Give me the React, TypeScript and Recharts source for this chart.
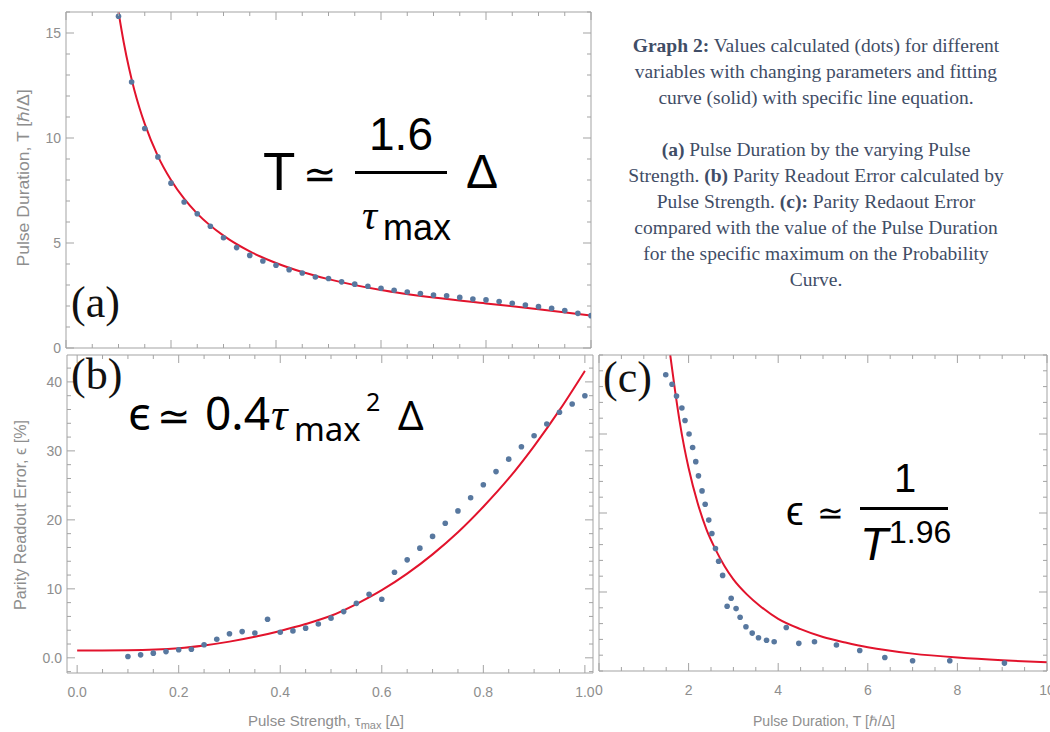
import React from 'react';
import { ComposedChart, Scatter, Line, XAxis, YAxis } from 'recharts';

// ---------- (a) Pulse Duration vs Pulse Strength ----------
const strengthA = [0.1, 0.125, 0.15, 0.175, 0.2, 0.225, 0.25, 0.275, 0.3, 0.325, 0.35, 0.375, 0.4, 0.425, 0.45, 0.475, 0.5, 0.525, 0.55, 0.575, 0.6, 0.625, 0.65, 0.675, 0.7, 0.725, 0.75, 0.775, 0.8, 0.825, 0.85, 0.875, 0.9, 0.925, 0.95, 0.975, 1.0];
const durationA = [15.8, 12.67, 10.45, 9.1, 7.85, 6.95, 6.39, 5.8, 5.25, 4.78, 4.41, 4.14, 3.94, 3.73, 3.57, 3.38, 3.31, 3.15, 3.04, 2.94, 2.84, 2.75, 2.67, 2.59, 2.52, 2.49, 2.41, 2.33, 2.29, 2.21, 2.13, 2.05, 1.97, 1.89, 1.78, 1.65, 1.54];
const fitStrengthA = [0.1, 0.11, 0.12, 0.13, 0.14, 0.15, 0.175, 0.2, 0.225, 0.25, 0.3, 0.35, 0.4, 0.45, 0.5, 0.6, 0.7, 0.8, 0.9, 1.0];
const fitDurationA = [16.0, 14.55, 13.33, 12.3, 11.43, 10.67, 9.14, 8.0, 7.11, 6.4, 5.35, 4.6, 4.05, 3.62, 3.28, 2.76, 2.4, 2.12, 1.85, 1.55];

// ---------- (b) Parity Readout Error vs Pulse Strength ----------
const strengthB = [0.1, 0.125, 0.15, 0.175, 0.2, 0.225, 0.25, 0.275, 0.3, 0.325, 0.35, 0.375, 0.4, 0.425, 0.45, 0.475, 0.5, 0.525, 0.55, 0.575, 0.6, 0.625, 0.65, 0.675, 0.7, 0.725, 0.75, 0.775, 0.8, 0.825, 0.85, 0.875, 0.9, 0.925, 0.95, 0.975, 1.0];
const errorB = [0.2, 0.43, 0.68, 0.9, 1.16, 1.25, 1.9, 2.7, 3.5, 3.8, 3.6, 5.6, 3.7, 3.9, 4.3, 4.9, 5.75, 6.7, 7.9, 9.2, 8.5, 12.4, 14.2, 15.9, 17.6, 19.5, 21.3, 23.2, 25.1, 27.0, 28.8, 30.6, 32.2, 33.9, 35.6, 36.8, 38.0];
const fitStrengthB = [0, 0.1, 0.2, 0.25, 0.3, 0.35, 0.4, 0.45, 0.5, 0.55, 0.6, 0.65, 0.7, 0.75, 0.8, 0.85, 0.9, 0.95, 1.0];
const fitErrorB = [1.05, 1.1, 1.4, 1.8, 2.35, 3.05, 3.9, 4.9, 6.1, 7.8, 9.8, 12.2, 15.0, 18.2, 21.9, 26.0, 30.7, 35.9, 41.6];

// ---------- (c) Parity Readout Error vs Pulse Duration ----------
const durationC = [1.49, 1.63, 1.73, 1.85, 1.92, 2.01, 2.09, 2.16, 2.22, 2.3, 2.37, 2.45, 2.52, 2.6, 2.67, 2.76, 2.86, 2.95, 3.06, 3.15, 3.28, 3.42, 3.56, 3.74, 3.91, 4.18, 4.46, 4.81, 5.3, 5.82, 6.38, 7.0, 7.83, 9.05];
const errorC = [0.375, 0.363, 0.348, 0.333, 0.317, 0.3, 0.283, 0.265, 0.247, 0.228, 0.211, 0.191, 0.174, 0.155, 0.139, 0.121, 0.082, 0.092, 0.079, 0.068, 0.056, 0.048, 0.042, 0.039, 0.037, 0.055, 0.035, 0.037, 0.033, 0.026, 0.017, 0.013, 0.013, 0.01];
const fitDurationC = [1.59, 1.7, 1.8, 1.9, 2.0, 2.2, 2.4, 2.6, 2.8, 3.0, 3.3, 3.6, 4.0, 4.5, 5.0, 5.5, 6.0, 7.0, 8.0, 9.0, 10.0];
const fitErrorC = [0.4, 0.354, 0.316, 0.284, 0.257, 0.213, 0.179, 0.154, 0.133, 0.116, 0.097, 0.082, 0.066, 0.053, 0.043, 0.036, 0.03, 0.022, 0.017, 0.0135, 0.011];

// ---------- ticks ----------
const aXTicks = [0, 0.05, 0.1, 0.15, 0.2, 0.25, 0.3, 0.35, 0.4, 0.45, 0.5, 0.55, 0.6, 0.65, 0.7, 0.75, 0.8, 0.85, 0.9, 0.95, 1.0];
const aXMajor = [0, 0.2, 0.4, 0.6, 0.8, 1.0];
const aYTicks = [0, 1, 2, 3, 4, 5, 6, 7, 8, 9, 10, 11, 12, 13, 14, 15, 16];
const aYMajor = [0, 5, 10, 15];
const aYLabels = ['0', '5', '10', '15'];

const bXTicks = aXTicks;
const bXMajor = [0, 0.2, 0.4, 0.6, 0.8, 1.0];
const bXLabels = ['0.0', '0.2', '0.4', '0.6', '0.8', '1.0'];
const bYTicks = [-2, 0, 2, 4, 6, 8, 10, 12, 14, 16, 18, 20, 22, 24, 26, 28, 30, 32, 34, 36, 38, 40, 42];
const bYMajor = [0, 10, 20, 30, 40];
const bYLabels = ['0.0', '10', '20', '30', '40'];

const cXTicks = [0, 0.5, 1, 1.5, 2, 2.5, 3, 3.5, 4, 4.5, 5, 5.5, 6, 6.5, 7, 7.5, 8, 8.5, 9, 9.5, 10];
const cXMajor = [0, 2, 4, 6, 8, 10];
const cXLabels = ['0', '2', '4', '6', '8', '10'];
const cYTicks = [0, 0.02, 0.04, 0.06, 0.08, 0.1, 0.12, 0.14, 0.16, 0.18, 0.2, 0.22, 0.24, 0.26, 0.28, 0.3, 0.32, 0.34, 0.36, 0.38, 0.4];
const cYMajor = [0.1, 0.2, 0.3];

const captionLines: Array<Array<[string, boolean]>> = [
  [['Graph 2:', true], [' Values calculated (dots) for different', false]],
  [['variables with changing parameters and fitting', false]],
  [['curve (solid) with specific line equation.', false]],
  [],
  [['(a)', true], [' Pulse Duration by the varying Pulse', false]],
  [['Strength. ', false], ['(b)', true], [' Parity Readout Error calculated by', false]],
  [['Pulse Strength. ', false], ['(c):', true], [' Parity Redaout Error', false]],
  [['compared with the value of the Pulse Duration', false]],
  [['for the specific maximum on the Probability', false]],
  [['Curve.', false]],
];

const zip = (xs: number[], ys: number[]) => xs.map((x, i) => ({ x, y: ys[i] }));
const dotsA = zip(strengthA, durationA);
const fitA = zip(fitStrengthA, fitDurationA);
const dotsB = zip(strengthB, errorB);
const fitB = zip(fitStrengthB, fitErrorB);
const dotsC = zip(durationC, errorC);
const fitC = zip(fitDurationC, fitErrorC);

const FRAME = '#a3a3a3';
const LABEL = '#8e8e8e';
const RED = '#e2132c';
const DOT = '#58789f';
const SANS = '"Liberation Sans", Arial, sans-serif';
const SERIF = '"Liberation Serif", "Times New Roman", serif';

type Side = 'left' | 'right' | 'top' | 'bottom';

function makeTick(side: Side, majors: number[], labels: string[] | null) {
  return (p: any) => {
    const v = Number(p.payload.value);
    const mi = majors.findIndex((m) => Math.abs(m - v) < 1e-6);
    const major = mi >= 0;
    const len = major ? 8 : 4;
    const x = p.x;
    const y = p.y;
    let ln: any = null;
    let tx: any = null;
    if (side === 'left') {
      ln = <line x1={x} x2={x + len} y1={y} y2={y} stroke={FRAME} strokeWidth={1} />;
      if (labels && major)
        tx = (
          <text x={x - 5} y={y} dy="0.36em" textAnchor="end" fill={LABEL} fontSize={14} fontFamily={SANS}>
            {labels[mi]}
          </text>
        );
    } else if (side === 'right') {
      ln = <line x1={x} x2={x - len} y1={y} y2={y} stroke={FRAME} strokeWidth={1} />;
    } else if (side === 'top') {
      ln = <line x1={x} x2={x} y1={y} y2={y + len} stroke={FRAME} strokeWidth={1} />;
    } else {
      ln = <line x1={x} x2={x} y1={y} y2={y - len} stroke={FRAME} strokeWidth={1} />;
      if (labels && major)
        tx = (
          <text x={x} y={y + 24} textAnchor="middle" fill={LABEL} fontSize={14} fontFamily={SANS}>
            {labels[mi]}
          </text>
        );
    }
    return (
      <g>
        {ln}
        {tx}
      </g>
    );
  };
}

const dotShape = (p: any) => <circle cx={p.cx} cy={p.cy} r={2.8} fill={DOT} />;

function Panel(props: {
  left: number; top: number; width: number; height: number;
  margin: { top: number; right: number; bottom: number; left: number };
  xDomain: [number, number]; yDomain: [number, number];
  xTicks: number[]; xMajor: number[]; xLabels: string[] | null;
  yTicks: number[]; yMajor: number[]; yLabels: string[] | null;
  dots: { x: number; y: number }[]; fit: { x: number; y: number }[];
}) {
  const p = props;
  const common = { tickSize: 0, tickMargin: 0, interval: 0 as const, allowDataOverflow: true, stroke: FRAME };
  return (
    <div style={{ position: 'absolute', left: p.left, top: p.top, width: p.width, height: p.height }}>
      <ComposedChart width={p.width} height={p.height} margin={p.margin}>
        <XAxis xAxisId="b" type="number" dataKey="x" orientation="bottom" height={1} domain={p.xDomain}
          ticks={p.xTicks} tick={makeTick('bottom', p.xMajor, p.xLabels)} {...common} />
        <XAxis xAxisId="t" type="number" dataKey="x" orientation="top" height={1} domain={p.xDomain}
          ticks={p.xTicks} tick={makeTick('top', p.xMajor, null)} {...common} />
        <YAxis yAxisId="l" type="number" dataKey="y" orientation="left" width={1} domain={p.yDomain}
          ticks={p.yTicks} tick={makeTick('left', p.yMajor, p.yLabels)} {...common} />
        <YAxis yAxisId="r" type="number" dataKey="y" orientation="right" width={1} domain={p.yDomain}
          ticks={p.yTicks} tick={makeTick('right', p.yMajor, null)} {...common} />
        <Line xAxisId="b" yAxisId="l" data={p.fit} dataKey="y" type="monotone" stroke={RED} strokeWidth={2}
          dot={false} isAnimationActive={false} />
        <Scatter xAxisId="b" yAxisId="l" data={p.dots} dataKey="y" shape={dotShape} isAnimationActive={false} />
      </ComposedChart>
    </div>
  );
}

function Overlay() {
  return (
    <svg width={1050} height={732} style={{ position: 'absolute', left: 0, top: 0, pointerEvents: 'none' }}>
      {/* caption */}
      <g fontFamily={SERIF} fontSize={19.5} fill="#3f4d66" textAnchor="middle">
        {captionLines.map((ln, i) =>
          ln.length ? (
            <text key={i} x={816} y={52 + i * 26}>
              {ln.map(([t, b], j) => (
                <tspan key={j} fontWeight={b ? 'bold' : 'normal'}>{t}</tspan>
              ))}
            </text>
          ) : null
        )}
      </g>

      {/* panel letters */}
      <g fontFamily={SERIF} fontSize={44} fill="#111">
        <text x={71} y={317}>(a)</text>
        <text x={71} y={389}>(b)</text>
        <text x={603} y={392}>(c)</text>
      </g>

      {/* equation (a) */}
      <g fontFamily={SANS} fill="#000">
        <text x={263} y={190} fontSize={53}>T</text>
        <text x={303} y={188} fontSize={40}>≃</text>
        <text x={401} y={150} fontSize={46} textAnchor="middle">1.6</text>
        <rect x={355} y={171} width={92} height={3} fill="#000" />
        <text x={362} y={229} fontSize={42} fontStyle="italic" fontFamily={SERIF}>τ</text>
        <text x={383} y={240} fontSize={36}>max</text>
        <text x={466} y={188} fontSize={48}>Δ</text>
      </g>

      {/* equation (b) */}
      <g fontFamily='"Noto Sans", "Open Sans", sans-serif' fill="#000">
        <text x={128} y={430} fontSize={46}>ϵ</text>
        <text x={157} y={430} fontSize={40}>≃</text>
        <text x={205} y={430} fontSize={46}>0.4</text>
        <text x={271} y={430} fontSize={46} fontStyle="italic" fontFamily={SERIF}>τ</text>
        <text x={294} y={441} fontSize={33}>max</text>
        <text x={366} y={411} fontSize={25}>2</text>
        <text x={398} y={430} fontSize={40}>Δ</text>
      </g>

      {/* equation (c) */}
      <g fontFamily={SANS} fill="#000">
        <text x={786} y={525} fontSize={40}>ϵ</text>
        <text x={817} y={524} fontSize={32}>≃</text>
        <text x={905} y={492} fontSize={40} textAnchor="middle">1</text>
        <rect x={860} y={507} width={88} height={3} fill="#000" />
        <text x={860} y={560} fontSize={46} fontStyle="italic">T</text>
        <text x={889} y={543} fontSize={32}>1.96</text>
      </g>

      {/* axis titles */}
      <g fontFamily={SANS} fill={LABEL}>
        <text transform="translate(23,178) rotate(-90)" textAnchor="middle" dy="0.35em" fontSize={16}
          textLength={177} lengthAdjust="spacingAndGlyphs">Pulse Duration, T [ℏ/Δ]</text>
        <text transform="translate(20,515) rotate(-90)" textAnchor="middle" dy="0.35em" fontSize={16}
          textLength={190} lengthAdjust="spacingAndGlyphs">Parity Readout Error, ϵ [%]</text>
        <text x={326} y={726} textAnchor="middle" fontSize={15}>
          Pulse Strength, τ<tspan fontSize={11} dy={3}>max</tspan><tspan dy={-3}> [Δ]</tspan>
        </text>
        <text x={824} y={726} textAnchor="middle" fontSize={14} textLength={142} lengthAdjust="spacingAndGlyphs">
          Pulse Duration, T [ℏ/Δ]
        </text>
      </g>
    </svg>
  );
}

export default function App() {
  return (
    <div style={{ position: 'absolute', left: 0, top: 0, width: 1050, height: 732, background: '#fff', overflow: 'hidden' }}>
      <Panel left={0} top={0} width={600} height={360} margin={{ top: 11, right: 8, bottom: 11, left: 65 }}
        xDomain={[0, 1]} yDomain={[0, 16]} xTicks={aXTicks} xMajor={aXMajor} xLabels={null}
        yTicks={aYTicks} yMajor={aYMajor} yLabels={aYLabels} dots={dotsA} fit={fitA} />
      <Panel left={0} top={340} width={600} height={392} margin={{ top: 14, right: 6, bottom: 58, left: 66 }}
        xDomain={[-0.02, 1.016]} yDomain={[-2.2, 43.9]} xTicks={bXTicks} xMajor={bXMajor} xLabels={bXLabels}
        yTicks={bYTicks} yMajor={bYMajor} yLabels={bYLabels} dots={dotsB} fit={fitB} />
      <Panel left={590} top={340} width={460} height={392} margin={{ top: 14, right: 2, bottom: 60, left: 8 }}
        xDomain={[0, 10]} yDomain={[0, 0.4]} xTicks={cXTicks} xMajor={cXMajor} xLabels={cXLabels}
        yTicks={cYTicks} yMajor={cYMajor} yLabels={null} dots={dotsC} fit={fitC} />
      <Overlay />
    </div>
  );
}
